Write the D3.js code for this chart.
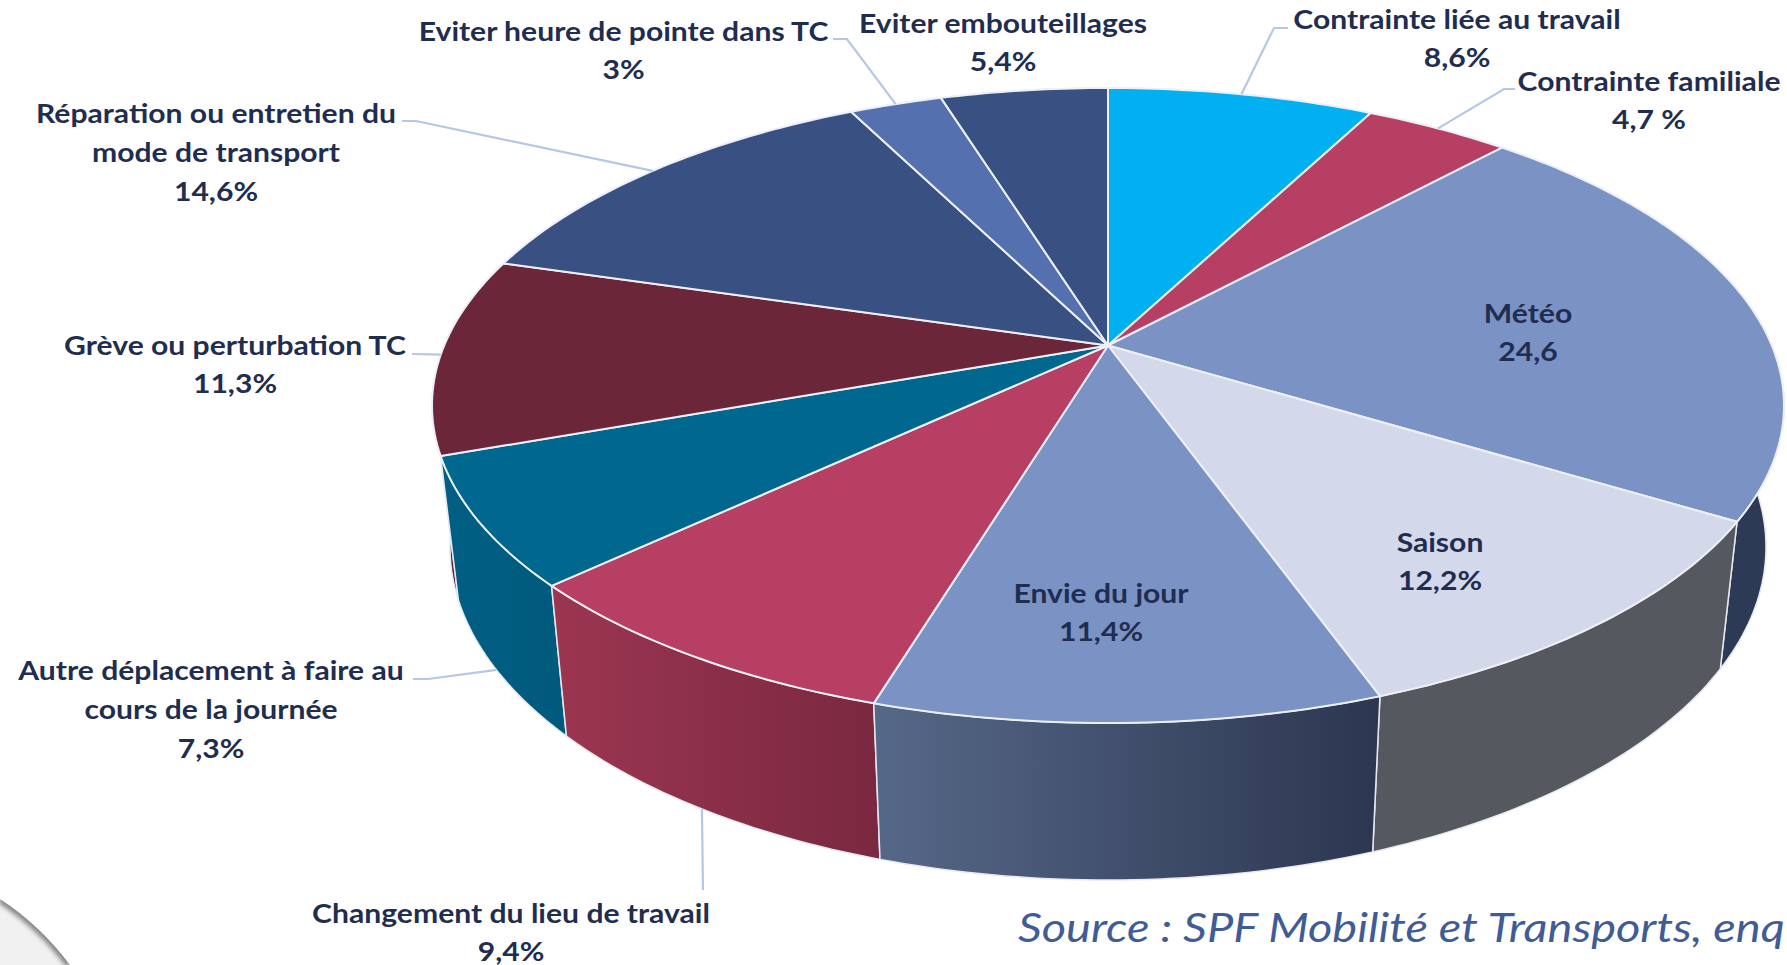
<!DOCTYPE html>
<html>
<head>
<meta charset="utf-8">
<script src="https://cdn.jsdelivr.net/npm/d3@7"></script>
<style>
  html, body { margin: 0; padding: 0; background: #fff; overflow: hidden; }
  text { font-family: Lato, "Open Sans", sans-serif; }
</style>
</head>
<body>
<div id="wrapper"></div>
<script>
// 1. Data, clockwise from the top of the pie
const categories = [
  "Contrainte liée au travail", "Contrainte familiale", "Météo", "Saison",
  "Envie du jour", "Changement du lieu de travail",
  "Autre déplacement à faire au cours de la journée", "Grève ou perturbation TC",
  "Réparation ou entretien du mode de transport", "Eviter heure de pointe dans TC",
  "Eviter embouteillages"
]
const values = [8.6, 4.7, 24.6, 12.2, 11.4, 9.4, 7.3, 11.3, 14.6, 3, 5.4]
const valueLabels = ["8,6%", "4,7 %", "24,6", "12,2%", "11,4%", "9,4%", "7,3%", "11,3%", "14,6%", "3%", "5,4%"]

// label lines as wrapped in the picture
const labelLines = [
  ["Contrainte liée au travail"], ["Contrainte familiale"], ["Météo"], ["Saison"],
  ["Envie du jour"], ["Changement du lieu de travail"],
  ["Autre déplacement à faire au", "cours de la journée"], ["Grève ou perturbation TC"],
  ["Réparation ou entretien du", "mode de transport"], ["Eviter heure de pointe dans TC"],
  ["Eviter embouteillages"]
]

// 2. Dimensions
const width = 1787
const height = 965
const topRim = { cx: 1108, cy: 405.5, rx: 676, ry: 317.5 }
const bottomRim = { cx: 1108, cy: 547, rx: 658, ry: 333 }
const tilt = 60 / 317.5 // how far the apex sits above the middle of the ellipse
const textStretch = 1.095 // the picture's text is wider than the font

const topColours = ["#00b0f0", "#b83f64", "#7a92c4", "#d3d8ea", "#7a92c4", "#b83f64", "#00678f", "#6b2639", "#385082", "#5470ae", "#385082"]
const wallColours = [
  ["#385082", "#385082"], ["#385082", "#385082"], ["#2d3a55", "#2d3a55"], ["#55585f", "#55585f"],
  ["#566888", "#2c3650"], ["#9c3651", "#7a2840"], ["#005f85", "#005a7c"], ["#5a1f30", "#5a1f30"],
  ["#385082", "#385082"], ["#385082", "#385082"], ["#385082", "#385082"]
]

// label centre, and the elbow of the leader line where there is one
const labelLayout = [
  { x: 1457, y: 19, elbow: [[1288, 28], [1274, 28]], rim: "top" },
  { x: 1649, y: 81, elbow: [[1515, 89], [1504, 89]], rim: "top" },
  { x: 1528, y: 313 },
  { x: 1440, y: 542 },
  { x: 1101, y: 593 },
  { x: 511, y: 913, elbow: [[703, 890]], rim: "bottom" },
  { x: 211, y: 670, elbow: [[413, 679], [428, 679]], rim: "bottom" },
  { x: 235, y: 345, elbow: [[412, 354]], rim: "top" },
  { x: 216, y: 113, elbow: [[402, 121], [416, 121]], rim: "top" },
  { x: 623.5, y: 31, elbow: [[833, 39], [847, 39]], rim: "top" },
  { x: 1003, y: 23 }
]

// 3. Perspective: a pie angle goes to a spot on the unit ellipse, the centre ends up at the apex
const onEllipse = angle => {
  const v = -Math.cos(angle)
  const d = 1 - tilt * v
  return {
    u: Math.sin(angle) * Math.sqrt(1 - tilt * tilt) / d,
    v: (v - tilt) / d
  }
}
const onRim = (rim, angle) => {
  const p = onEllipse(angle)
  return [rim.cx + rim.rx * p.u, rim.cy + rim.ry * p.v]
}
const apex = [topRim.cx, topRim.cy - topRim.ry * tilt]

const arcAngles = d => {
  const steps = Math.max(8, Math.ceil((d.endAngle - d.startAngle) * 60))
  return d3.range(steps + 1).map(i => d.startAngle + (d.endAngle - d.startAngle) * i / steps)
}

const pie = d3.pie().sort(null).value(d => d)
const slices = pie(values)
const line = d3.line()
const closed = d3.line().curve(d3.curveLinearClosed)

// 4. Draw canvas
const svg = d3.select("#wrapper").append("svg")
  .attr("width", width)
  .attr("height", height)
  .style("display", "block")

const defs = svg.append("defs")

wallColours.forEach((c, i) => {
  const g = defs.append("linearGradient").attr("id", "wall" + i)
  g.append("stop").attr("offset", "0%").attr("stop-color", c[0])
  g.append("stop").attr("offset", "100%").attr("stop-color", c[1])
})

defs.append("filter").attr("id", "soft")
  .append("feGaussianBlur").attr("stdDeviation", 2.6)

// grey swoosh in the bottom left corner
const swoosh = "M0,899 Q40,925 70,965 L0,965 Z"
defs.append("clipPath").attr("id", "swooshClip").append("path").attr("d", swoosh)
const corner = svg.append("g").attr("clip-path", "url(#swooshClip)")
corner.append("path").attr("d", swoosh).attr("fill", "#f1f1f1")
corner.append("path").attr("d", "M0,899 Q40,925 70,965")
  .attr("fill", "none")
  .attr("stroke", "#808080")
  .attr("stroke-width", 8)
  .attr("filter", "url(#soft)")

// 5. Walls, back to front, then the top face
const wallOrder = slices
  .map((d, i) => ({ d, i, depth: onEllipse((d.startAngle + d.endAngle) / 2).v }))
  .sort((a, b) => a.depth - b.depth)

svg.append("g")
  .selectAll("path")
  .data(wallOrder)
  .join("path")
    .attr("d", o => {
      const angles = arcAngles(o.d)
      return closed([
        ...angles.map(a => onRim(topRim, a)),
        ...angles.slice().reverse().map(a => onRim(bottomRim, a))
      ])
    })
    .attr("fill", o => `url(#wall${o.i})`)
    .attr("stroke", "#e6e9f2")
    .attr("stroke-width", 1.5)
    .attr("stroke-linejoin", "round")

svg.append("g")
  .selectAll("path")
  .data(slices)
  .join("path")
    .attr("d", d => closed([apex, ...arcAngles(d).map(a => onRim(topRim, a))]))
    .attr("fill", (d, i) => topColours[i])
    .attr("stroke", "#eef0f7")
    .attr("stroke-width", 2)
    .attr("stroke-linejoin", "round")

// 6. Leader lines end at the middle of the slice, on the rim
svg.append("g")
  .selectAll("path")
  .data(slices.filter((d, i) => labelLayout[i].elbow))
  .join("path")
    .attr("d", d => {
      const l = labelLayout[d.index]
      const rim = l.rim === "top" ? topRim : bottomRim
      return line([...l.elbow, onRim(rim, (d.startAngle + d.endAngle) / 2)])
    })
    .attr("fill", "none")
    .attr("stroke", "#b4c7e7")
    .attr("stroke-width", 2.2)

// 7. Labels
const labels = svg.append("g")
  .selectAll("text")
  .data(slices)
  .join("text")
    .attr("text-anchor", "middle")
    .attr("font-size", 27.5)
    .attr("font-weight", 700)
    .attr("fill", "#1f2d50")
    .attr("transform", (d, i) => `translate(${labelLayout[i].x},0) scale(${textStretch},1)`)

labels.each(function(d, i) {
  const l = labelLayout[i]
  const lines = [...labelLines[i], valueLabels[i]]
  const gap = lines.length === 3 ? 38.7 : 37.2
  d3.select(this).selectAll("tspan")
    .data(lines)
    .join("tspan")
      .attr("x", 0)
      .attr("y", (t, k) => l.y + 10.5 + k * gap)
      .text(t => t)
})

// cut by the right edge in the picture, only the visible part is kept
svg.append("text")
  .attr("transform", "translate(1018,942) scale(1.145,1)")
  .attr("font-size", 41)
  .attr("font-style", "italic")
  .attr("fill", "#3f5c96")
  .text("Source : SPF Mobilité et Transports, enq")
</script>
</body>
</html>
